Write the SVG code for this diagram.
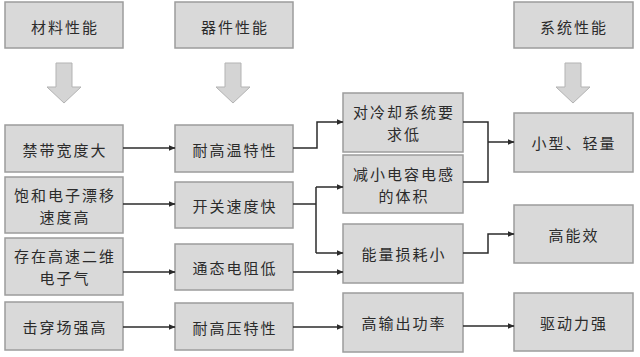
<svg xmlns="http://www.w3.org/2000/svg" width="640" height="357" viewBox="0 0 640 357">
<style>
.box{fill:#d9d9d9;stroke:#9c9c9c;stroke-width:1.5}
.t{font-family:"Noto Sans CJK SC","Noto Sans",sans-serif;font-size:15px;fill:#2b2b2b;text-anchor:middle;dominant-baseline:central;letter-spacing:2px}
.big{fill:#d4d4d4;stroke:#b3b3b3;stroke-width:1}
.c{fill:none;stroke:#2b2b2b;stroke-width:1.5}
</style>
<defs>
<marker id="ah" markerWidth="7" markerHeight="6" refX="6.5" refY="3" orient="auto" markerUnits="userSpaceOnUse">
<path d="M0,0 L7,3 L0,6 Z" fill="#2b2b2b"/>
</marker>
</defs>
<rect width="640" height="357" fill="#ffffff"/>
<g id="h1"><rect class="box" x="5" y="2" width="118" height="46"/><text class="t" x="65" y="26">材料性能</text></g>
<g id="h2"><rect class="box" x="175" y="2" width="118" height="46"/><text class="t" x="235" y="26">器件性能</text></g>
<g id="h3"><rect class="box" x="514" y="2" width="119" height="46"/><text class="t" x="574" y="26">系统性能</text></g>
<g id="bigarrows">
<path class="big" d="M56,63 H72 V87 H81 L64,103 L47,87 H56 Z"/>
<path class="big" d="M225,63 H241 V87 H250 L233,103 L216,87 H225 Z"/>
<path class="big" d="M565,63 H581 V87 H590 L573,103 L556,87 H565 Z"/>
</g>
<g id="m1"><rect class="box" x="5" y="125" width="118" height="47"/><text class="t" x="65" y="149">禁带宽度大</text></g>
<g id="m2"><rect class="box" x="5" y="177" width="118" height="56"/><text class="t" x="65" y="194">饱和电子漂移<tspan x="65" dy="22">速度高</tspan></text></g>
<g id="m3"><rect class="box" x="5" y="238" width="118" height="57"/><text class="t" x="65" y="255">存在高速二维<tspan x="65" dy="22">电子气</tspan></text></g>
<g id="m4"><rect class="box" x="5" y="302" width="118" height="48"/><text class="t" x="65" y="326">击穿场强高</text></g>
<g id="d1"><rect class="box" x="175" y="125" width="118" height="47"/><text class="t" x="235" y="149">耐高温特性</text></g>
<g id="d2"><rect class="box" x="175" y="182" width="118" height="46"/><text class="t" x="235" y="205">开关速度快</text></g>
<g id="d3"><rect class="box" x="175" y="244" width="118" height="46"/><text class="t" x="235" y="267">通态电阻低</text></g>
<g id="d4"><rect class="box" x="175" y="303" width="118" height="47"/><text class="t" x="235" y="327">耐高压特性</text></g>
<g id="e1"><rect class="box" x="343" y="93" width="120" height="59"/><text class="t" x="404" y="111">对冷却系统要<tspan x="404" dy="22">求低</tspan></text></g>
<g id="e2"><rect class="box" x="343" y="155" width="120" height="58"/><text class="t" x="404" y="173">减小电容电感<tspan x="404" dy="22">的体积</tspan></text></g>
<g id="e3"><rect class="box" x="343" y="224" width="120" height="59"/><text class="t" x="404" y="253">能量损耗小</text></g>
<g id="e4"><rect class="box" x="343" y="293" width="120" height="59"/><text class="t" x="404" y="322">高输出功率</text></g>
<g id="s1"><rect class="box" x="514" y="113" width="119" height="59"/><text class="t" x="574" y="142">小型、轻量</text></g>
<g id="s2"><rect class="box" x="514" y="205" width="119" height="58"/><text class="t" x="574" y="234">高能效</text></g>
<g id="s3"><rect class="box" x="514" y="293" width="119" height="58"/><text class="t" x="574" y="322">驱动力强</text></g>
<g id="connectors">
<path class="c" d="M123,148 H175" marker-end="url(#ah)"/>
<path class="c" d="M123,204 H175" marker-end="url(#ah)"/>
<path class="c" d="M123,272 H175" marker-end="url(#ah)"/>
<path class="c" d="M123,327 H175" marker-end="url(#ah)"/>
<path class="c" d="M293,148 H317 V122 H343" marker-end="url(#ah)"/>
<path class="c" d="M293,204 H316"/>
<path class="c" d="M316,187 V253"/>
<path class="c" d="M316,187 H343" marker-end="url(#ah)"/>
<path class="c" d="M316,253 H343" marker-end="url(#ah)"/>
<path class="c" d="M293,272 H343" marker-end="url(#ah)"/>
<path class="c" d="M293,327 H343" marker-end="url(#ah)"/>
<path class="c" d="M463,122 H488 V182 H463"/>
<path class="c" d="M488,142 H514" marker-end="url(#ah)"/>
<path class="c" d="M463,253 H488 V234 H514" marker-end="url(#ah)"/>
<path class="c" d="M463,326 H514" marker-end="url(#ah)"/>
</g>
</svg>
